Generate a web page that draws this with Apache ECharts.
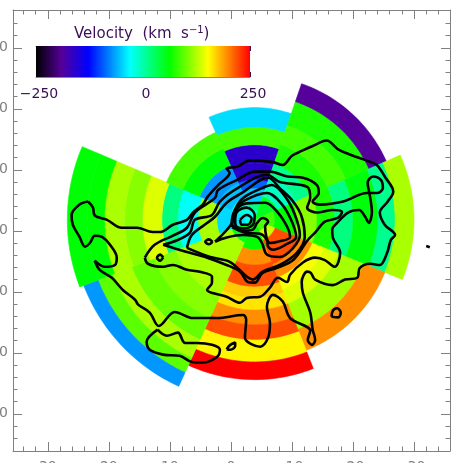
<!DOCTYPE html>
<html>
<head>
<meta charset="utf-8">
<script src="https://cdn.jsdelivr.net/npm/echarts@6/dist/echarts.min.js"></script>
<style>
html, body { margin: 0; padding: 0; background: #fff; }
#chart { width: 463px; height: 463px; }
</style>
</head>
<body>
<div id="chart"></div>
<script>
// colour table: velocity (km/s) -> colour
var rampValues = [-250, -190, -128, -31, 62, 152, 250];
var rampColors = ['#000000', '#55009a', '#0000ff', '#00ffff', '#00ff00', '#ffff00', '#ff0000'];

// wedge centre, arcsec
var wedgeCentre = [-3.9, 1.8];

// one wedge = angle range (deg, clockwise from north) + ring edges (arcsec) + ring velocities
var anglesN = [336, 379];
var ringsN = [0, 1.6, 3.0, 5.2, 6.6, 9.3, 12.3, 15.2, 18.4];
var velN = [-25, 15, -50, -90, -160, -160, 86, -44];

var anglesNE = [19, 66];
var ringsNE = [0, 4.1, 7.4, 9.8, 13.1, 16.4, 20.5, 23.6];
var velNE = [50, -10, 10, 72, 86, 72, -190];

var anglesE = [66, 112];
var ringsE = [0, 3.3, 6.9, 10.2, 13.1, 16.1, 20.2, 23.0, 26.1];
var velE = [86, 62, 110, 70, 15, 58, 10, 122];

var anglesSE = [112, 158.5];
var ringsSE = [0, 2.0, 3.6, 7.9, 10.2, 12.3, 14.8, 19.3, 23.0];
var velSE = [86, 134, 220, 195, 150, 140, 120, 195];

var anglesS = [158.5, 204.5];
var ringsS = [0, 4.9, 7.4, 11.0, 12.8, 14.8, 17.2, 19.7, 23.3, 26.2];
var velS = [62, 195, 220, 172, 162, 195, 220, 155, 250];

var anglesSW = [204.5, 249];
var ringsSW = [0, 4.1, 10.2, 13.9, 17.7, 21.6, 24.9, 27.5, 30.0];
var velSW = [50, 122, 122, 110, 98, 122, 94, -70];

var anglesW = [249, 293];
var ringsW = [0, 1.6, 3.3, 6.2, 9.3, 12.6, 15.2, 18.4, 21.3, 24.6, 27.4, 30.7];
var velW = [-25, -40, -45, 122, -28, 15, 140, 110, 122, 62, 60];

var anglesNW = [293, 336];
var ringsNW = [0, 2.0, 4.1, 6.6, 9.8, 12.8, 15.7];
var velNW = [-25, -15, -55, -70, 60, 86];

// contours, arcsec
var contourOuter = [[23.4,4.8],[24.8,4.3],[26.1,2.6],[25.9,1.0],[24.8,-1.0],[23.9,-2.6],[23.1,-2.0],[22.3,-0.8],[21.1,-1.0],[19.8,-2.3],[18.7,-4.4],[19.0,-5.6],[20.7,-5.9],[22.3,-4.9],[21.5,-6.4],[19.5,-7.7],[17.7,-9.7],[15.7,-11.3],[15.2,-12.1],[13.3,-13.4],[11.8,-15.6],[9.2,-13.3],[6.2,-14.3],[2.3,-14.3],[-2.0,-13.8],[-2.5,-14.6],[-2.3,-17.5],[-4.8,-19.0],[-6.1,-17.5],[-6.4,-15.1],[-5.9,-12.5],[-6.9,-10.5],[-8.5,-11.6],[-9.7,-14.3],[-13.0,-16.4],[-12.6,-17.9],[-13.3,-18.7],[-13.8,-17.9],[-13.4,-16.2],[-13.0,-13.4],[-11.8,-10.2],[-11.6,-8.4],[-12.5,-6.7],[-13.1,-6.9],[-13.8,-8.0],[-16.7,-8.9],[-18.7,-8.0],[-20.7,-7.7],[-21.1,-6.1],[-22.8,-5.4],[-24.4,-5.6],[-25.6,-3.6],[-26.2,-1.5],[-26.9,-0.7],[-25.2,1.0],[-24.4,3.0],[-25.7,4.8],[-26.6,6.4],[-25.2,8.9],[-23.9,10.8],[-22.3,11.5],[-19.5,12.5],[-17.5,13.4],[-15.7,14.8],[-13.4,13.9],[-11.6,13.1],[-10.0,12.3],[-8.5,10.8],[-6.7,11.3],[-3.1,11.5],[-1.0,10.5],[0.7,10.2],[0.2,9.5],[2.1,7.5],[3.8,5.6],[4.6,4.3],[6.2,3.0],[7.2,1.8],[9.5,1.0],[11.6,-0.2],[12.8,-0.2],[15.4,0.5],[17.9,0.5],[20.3,1.8],[22.3,2.5],[22.6,3.8]];
var contourSouthLoop = [[12.0,-16.2],[13.8,-18.2],[13.3,-19.5],[11.1,-20.3],[8.4,-20.5],[6.4,-21.5],[4.6,-21.6],[2.3,-20.7],[1.8,-19.5],[3.1,-18.7],[5.6,-18.4],[7.5,-18.4],[8.7,-16.7],[10.5,-17.2]];
var contourSecond = [[14.1,-4.4],[13.6,-5.4],[11.1,-5.9],[9.5,-5.6],[7.2,-6.4],[5.1,-6.7],[3.1,-7.5],[3.1,-8.5],[3.9,-9.7],[3.0,-10.2],[0.7,-10.8],[-1.5,-11.8],[-2.6,-11.0],[-4.8,-10.8],[-6.4,-9.3],[-7.7,-7.7],[-9.2,-8.4],[-9.7,-7.2],[-11.8,-5.2],[-13.8,-4.4],[-15.4,-4.8],[-17.0,-5.9],[-17.9,-3.6],[-16.7,-1.1],[-16.6,0.2],[-17.4,1.3],[-19.2,3.0],[-21.0,3.4],[-22.0,2.3],[-22.6,1.3],[-23.1,3.1],[-22.8,5.6],[-22.4,7.9],[-23.3,8.9],[-24.6,8.3],[-24.9,7.0],[-24.0,6.2],[-22.3,6.2],[-18.4,4.8],[-14.6,4.3],[-13.4,4.8],[-14.4,6.2],[-14.1,7.5],[-11.8,8.7],[-9.3,8.9],[-6.4,9.7],[-3.9,9.7],[-1.1,8.4],[2.1,6.7],[2.6,5.4],[5.9,3.0],[7.2,0.5],[9.5,-0.8],[12.5,-2.3]];
var contourThird = [[11.1,-2.3],[7.5,-3.4],[3.9,-4.4],[0.7,-5.6],[-1.5,-6.7],[-2.8,-8.4],[-3.9,-8.5],[-5.2,-6.9],[-7.5,-6.1],[-10.2,-4.8],[-12.6,-1.5],[-13.8,-0.3],[-15.4,1.5],[-17.5,2.1],[-18.2,3.1],[-16.7,3.4],[-14.1,3.0],[-12.5,3.8],[-13.0,5.4],[-12.5,7.2],[-8.0,8.0],[-5.9,9.2],[-1.1,7.0],[1.8,4.8],[3.1,2.6],[5.9,1.8],[6.7,-0.3],[8.7,-1.5]];
var contourFourth = [[7.2,-2.8],[6.4,-0.7],[4.3,1.0],[2.6,2.3],[0.7,4.6],[-1.8,6.2],[-6.1,8.7],[-8.0,7.0],[-10.2,4.8],[-11.6,2.3],[-12.1,-1.0],[-10.8,-3.6],[-8.0,-5.6],[-5.2,-6.7],[-3.6,-8.0],[-2.6,-7.5],[0.2,-5.1],[3.4,-4.3]];
var contourFifth = [[2.6,-1.8],[-0.2,1.3],[-1.1,4.3],[-2.3,5.6],[-5.1,7.0],[-6.7,7.5],[-8.9,5.6],[-10.5,2.6],[-11.3,-0.7],[-10.2,-2.8],[-8.0,-4.3],[-5.9,-3.9],[-5.1,-2.0],[-4.3,-1.0],[-2.0,-0.7],[0.7,-1.1]];
var contourSixth = [[-0.2,0.6],[-0.9,3.9],[-3.6,5.6],[-5.9,6.2],[-8.4,4.3],[-10.0,1.5],[-10.7,-1.0],[-8.9,-2.3],[-6.9,-3.1],[-6.1,-2.6],[-5.9,-1.5],[-4.8,-0.5],[-2.3,-0.3]];
var contourSeventh = [[-0.1,1.0],[-0.6,3.2],[-2.6,4.5],[-5.6,4.6],[-7.7,3.0],[-9.3,0.5],[-9.7,-1.0],[-7.7,-1.8],[-6.4,-2.0],[-5.6,0.7],[-6.1,1.5],[-5.2,2.1],[-4.3,1.3],[-3.6,0.2],[-2.0,0.0]];
var contourCore = [[-0.7,1.5],[-1.0,3.1],[-2.6,3.8],[-3.9,2.6],[-3.6,1.0],[-2.0,0.4],[-0.9,0.7]];
var contourPeak = [[-1.5,1.8],[-2.6,2.6],[-3.4,2.0],[-2.8,1.0],[-1.8,1.0]];
var islandA = [[3.0,-1.8],[3.6,-1.4],[4.2,-1.8],[3.6,-2.2]];
var islandB = [[11.1,-4.4],[11.6,-3.9],[12.1,-4.4],[11.6,-4.9]];
var islandC = [[0.7,-19.4],[0.1,-18.7],[-0.7,-18.3],[-0.7,-18.9],[0.1,-19.5]];
var islandD = [[-16.5,-14.1],[-16.7,-13.1],[-17.4,-12.7],[-18.0,-13.4],[-17.6,-14.2]];
var islandE = [[-32.0,-2.5],[-32.6,-2.7]];

// axis ticks
var majorTicks = [-30, -20, -10, 0, 10, 20, 30];
var minorTicks = [-34, -32, -28, -26, -24, -22, -18, -16, -14, -12, -8, -6, -4, -2, 2, 4, 6, 8, 12, 14, 16, 18, 22, 24, 26, 28, 32, 34];
var barLabels = [-250, 0, 250];
var barTicks = [-250, -125, 0, 125, 250];

function hexToRgb(hex) {
    return [parseInt(hex.substr(1, 2), 16), parseInt(hex.substr(3, 2), 16), parseInt(hex.substr(5, 2), 16)];
}

function velColor(v) {
    for (var i = 0; i < rampValues.length - 1; i++) {
        if (v <= rampValues[i + 1]) {
            var t = (v - rampValues[i]) / (rampValues[i + 1] - rampValues[i]);
            var a = hexToRgb(rampColors[i]), b = hexToRgb(rampColors[i + 1]);
            return 'rgb(' + Math.round(a[0] + (b[0] - a[0]) * t) + ',' + Math.round(a[1] + (b[1] - a[1]) * t) + ',' + Math.round(a[2] + (b[2] - a[2]) * t) + ')';
        }
    }
    return rampColors[rampColors.length - 1];
}

var cells = [];
function addWedge(angles, rings, vels) {
    for (var i = 0; i < vels.length; i++) {
        cells.push([angles[0], angles[1], rings[i], rings[i + 1], vels[i]]);
    }
}
addWedge(anglesN, ringsN, velN);
addWedge(anglesNE, ringsNE, velNE);
addWedge(anglesE, ringsE, velE);
addWedge(anglesSE, ringsSE, velSE);
addWedge(anglesS, ringsS, velS);
addWedge(anglesSW, ringsSW, velSW);
addWedge(anglesW, ringsW, velW);
addWedge(anglesNW, ringsNW, velNW);

function polarPoint(api, r, deg) {
    var a = deg * Math.PI / 180;
    return api.coord([wedgeCentre[0] - r * Math.sin(a), wedgeCentre[1] + r * Math.cos(a)]);
}

function renderCell(params, api) {
    var a0 = api.value(0), a1 = api.value(1), r0 = api.value(2), r1 = api.value(3);
    var pts = [];
    var steps = 24;
    for (var i = 0; i <= steps; i++) pts.push(polarPoint(api, r1, a0 + (a1 - a0) * i / steps));
    for (var j = steps; j >= 0; j--) pts.push(polarPoint(api, r0, a0 + (a1 - a0) * j / steps));
    var c = velColor(api.value(4));
    return {
        type: 'polygon',
        shape: { points: pts },
        style: { fill: c, stroke: c, lineWidth: 0.6 }
    };
}

function renderBar(params, api) {
    var p0 = api.coord([api.value(0), 0]);
    var p1 = api.coord([api.value(1), 1]);
    var stops = [];
    for (var i = 0; i < rampValues.length; i++) {
        stops.push({ offset: (rampValues[i] + 250) / 500, color: rampColors[i] });
    }
    return {
        type: 'rect',
        shape: { x: p0[0], y: p1[1], width: p1[0] - p0[0], height: p0[1] - p1[1] },
        style: { fill: new echarts.graphic.LinearGradient(0, 0, 1, 0, stops) }
    };
}

var FONT = 'DejaVu Sans';
var GREY = '#808080';
var INK = '#3a0f55';

function mainX(pos, ticks, len, labelled) {
    return {
        type: 'value', gridIndex: 0, position: pos, inverse: true, min: -35.9, max: 35.7,
        axisLine: { show: labelled !== null, onZero: false, lineStyle: { color: GREY, width: 1 } },
        splitLine: { show: false },
        axisTick: { inside: true, length: len, customValues: ticks, lineStyle: { color: GREY, width: 1 } },
        axisLabel: labelled ? { customValues: majorTicks, margin: 9, color: GREY, fontFamily: FONT, fontSize: 14 } : { show: false }
    };
}

function mainY(pos, ticks, len, labelled) {
    return {
        type: 'value', gridIndex: 0, position: pos, min: -36.1, max: 36.2,
        axisLine: { show: labelled !== null, onZero: false, lineStyle: { color: GREY, width: 1 } },
        splitLine: { show: false },
        axisTick: { inside: true, length: len, customValues: ticks, lineStyle: { color: GREY, width: 1 } },
        axisLabel: labelled ? { customValues: majorTicks, margin: 5, color: GREY, fontFamily: FONT, fontSize: 14 } : { show: false }
    };
}

var xAxes = [
    mainX('bottom', majorTicks, 9, true),
    mainX('top', majorTicks, 9, false),
    mainX('bottom', minorTicks, 4.5, null),
    mainX('top', minorTicks, 4.5, null),
    {
        type: 'value', gridIndex: 1, position: 'bottom', min: -250, max: 250,
        axisLine: { onZero: false, lineStyle: { color: '#8a8098' } },
        splitLine: { show: false },
        axisTick: { inside: true, length: 5, customValues: barTicks, lineStyle: { color: INK } },
        axisLabel: {
            customValues: barLabels, margin: 10, color: INK, fontFamily: FONT, fontSize: 14, padding: [0, 0, 0, 6],
            formatter: function (v) { return String(v).replace('-', '−'); }
        }
    },
    {
        type: 'value', gridIndex: 1, position: 'top', min: -250, max: 250,
        axisLine: { onZero: false, lineStyle: { color: '#8a8098' } },
        splitLine: { show: false },
        axisTick: { inside: true, length: 5, customValues: barTicks, lineStyle: { color: INK } },
        axisLabel: { show: false }
    }
];
var yAxes = [
    mainY('left', majorTicks, 9, true),
    mainY('right', majorTicks, 9, false),
    mainY('left', minorTicks, 4.5, null),
    mainY('right', minorTicks, 4.5, null),
    { type: 'value', gridIndex: 1, min: 0, max: 1, show: false }
];

var contours = [contourOuter, contourSouthLoop, contourSecond, contourThird, contourFourth, contourFifth, contourSixth, contourSeventh, contourCore, contourPeak, islandA, islandB, islandC, islandD, islandE];

var series = [
    {
        type: 'custom', xAxisIndex: 0, yAxisIndex: 0, renderItem: renderCell, data: cells,
        encode: { x: -1, y: -1 }, silent: true, z: 2
    },
    {
        type: 'custom', xAxisIndex: 4, yAxisIndex: 4, renderItem: renderBar, data: [[-250, 250]],
        encode: { x: [0, 1], y: -1 }, silent: true, z: 1
    }
];
for (var k = 0; k < contours.length; k++) {
    series.push({
        type: 'line', xAxisIndex: 0, yAxisIndex: 0, data: contours[k].concat([contours[k][0]]),
        smooth: 0.35, symbol: 'none', silent: true, z: 3,
        lineStyle: { color: '#000', width: 2.6 }
    });
}

var myChart = echarts.init(document.getElementById('chart'), null, { renderer: 'canvas' });
myChart.setOption({
    animation: false,
    backgroundColor: '#fff',
    title: {
        text: 'Velocity  (km  s{sup|−1})',
        left: 74, top: 25, padding: 0,
        textStyle: {
            color: INK, fontFamily: FONT, fontSize: 15, fontWeight: 'normal',
            rich: { sup: { color: INK, fontFamily: FONT, fontSize: 10, verticalAlign: 'top', padding: [0, 0, 8, 0] } }
        }
    },
    grid: [
        { left: 13, right: 13, top: 10, bottom: 12, outerBoundsMode: 'none' },
        { left: 36, top: 46, width: 214, height: 31, outerBoundsMode: 'none' }
    ],
    xAxis: xAxes,
    yAxis: yAxes,
    series: series
});
</script>
</body>
</html>
